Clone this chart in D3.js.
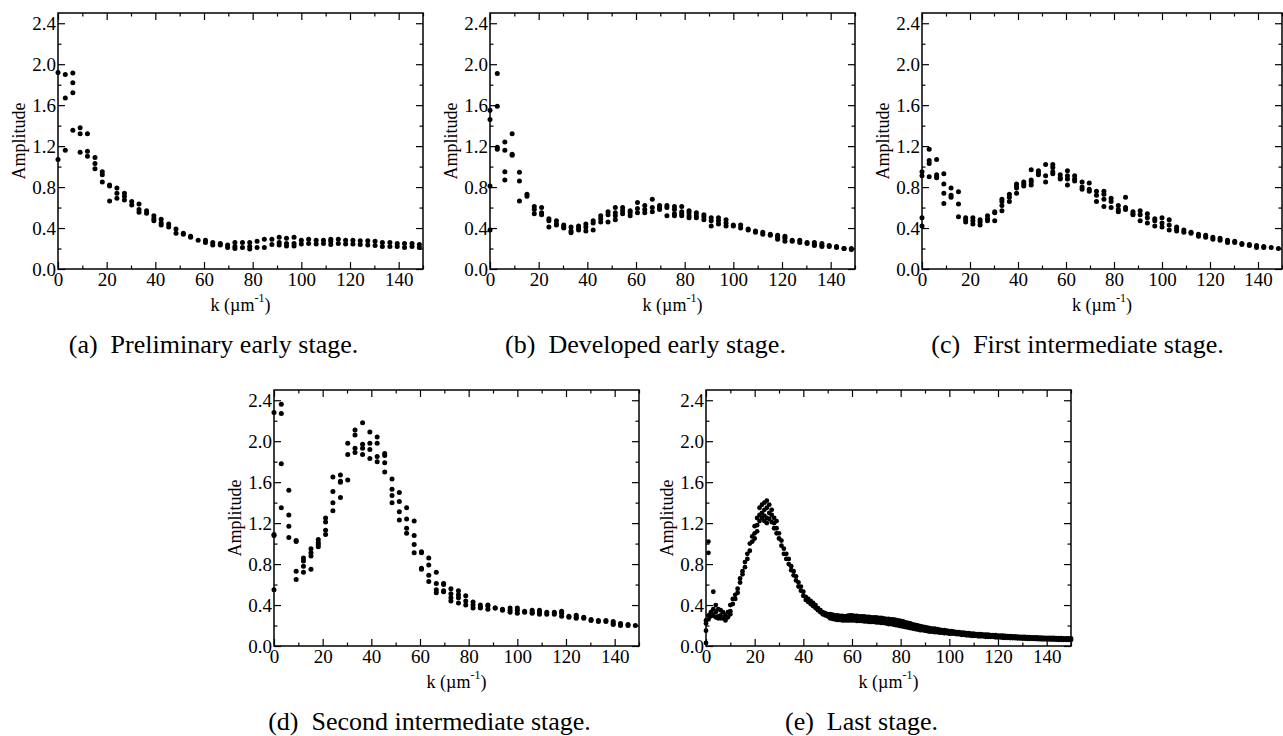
<!DOCTYPE html>
<html>
<head>
<meta charset="utf-8">
<script src="https://cdn.jsdelivr.net/npm/d3@7"></script>
<style>
  html, body { margin: 0; padding: 0; background: #fff; }
  svg { display: block; }
  svg text { font-family: "Liberation Serif", "Tinos", "DejaVu Serif", "Noto Serif", "FreeSerif", "Times New Roman", Times, serif !important; fill: #000; }
</style>
</head>
<body>
<svg id="chart" width="1283" height="736"></svg>
<script>
// ---------- DATA ----------
const xMajorTicks = [0, 20, 40, 60, 80, 100, 120, 140];
const xMinorTicks = [10, 30, 50, 70, 90, 110, 130, 150];
const yMajorTicks = [0, 0.4, 0.8, 1.2, 1.6, 2.0, 2.4];
const yMinorTicks = [0.2, 0.6, 1.0, 1.4, 1.8, 2.2];
const yAxisTitle = "Amplitude";
const xAxisTitle = "k (\u00b5m";
const xAxisSup = "-1";

// common k grid (µm^-1) for panels a–d
const kGrid = [0,3.0,6.1,9.1,12.1,15.2,18.2,21.2,24.2,27.3,30.3,33.3,36.4,39.4,42.4,45.5,48.5,51.5,54.5,57.6,
  60.6,63.6,66.7,69.7,72.7,75.8,78.8,81.8,84.8,87.9,90.9,93.9,97.0,100.0,103.0,106.1,109.1,112.1,115.2,118.2,
  121.2,124.2,127.3,130.3,133.3,136.4,139.4,142.4,145.5,148.5];

const ampA = [
  [1.92,1.07],[1.90,1.67,1.16],[1.915,1.82,1.72,1.355],[1.38,1.32,1.14],[1.32,1.15,1.10],
  [1.09,1.03,0.98],[0.95,0.92,0.85],[0.82,0.81,0.665],[0.79,0.74,0.69],[0.74,0.71,0.675],
  [0.66,0.625],[0.635,0.58,0.555],[0.57,0.545],[0.52,0.49,0.47],[0.485,0.45,0.43],
  [0.44,0.41],[0.39,0.35],[0.35,0.34],[0.32,0.31],[0.28],
  [0.28,0.26],[0.26,0.235],[0.25,0.235],[0.235,0.21],[0.26,0.22,0.20],
  [0.26,0.21],[0.26,0.22,0.195],[0.27,0.21],[0.29,0.21],[0.29,0.24],
  [0.31,0.26,0.235],[0.30,0.25,0.225],[0.31,0.25,0.225],[0.28,0.245],[0.29,0.25],
  [0.28,0.245],[0.28,0.25],[0.29,0.27,0.24],[0.29,0.25],[0.28,0.245],
  [0.28,0.245],[0.275,0.24],[0.275,0.235],[0.27,0.23],[0.26,0.22],
  [0.26,0.22],[0.25,0.22],[0.25,0.21],[0.25,0.22],[0.24,0.21]
];

const ampB = [
  [1.55,1.46,0.81,0.38],[1.91,1.59,1.19,1.17],[1.24,1.16,0.95,0.87],[1.32,1.12,1.11],[0.945,0.86,0.665],
  [0.73,0.71],[0.61,0.58,0.54],[0.60,0.55,0.53],[0.49,0.47,0.41],[0.47,0.44,0.43],
  [0.43,0.41,0.40],[0.41,0.37,0.355],[0.42,0.40,0.38],[0.44,0.41,0.37],[0.47,0.45,0.38],
  [0.52,0.49,0.46],[0.56,0.53,0.46],[0.60,0.55,0.52,0.48],[0.60,0.57,0.54],[0.57,0.55,0.52],
  [0.65,0.59,0.55],[0.62,0.58,0.55],[0.68,0.60,0.56],[0.62,0.60,0.58],[0.62,0.60,0.52],
  [0.61,0.58,0.54,0.52],[0.61,0.56,0.54,0.52],[0.57,0.55,0.52,0.50],[0.55,0.52,0.50],[0.53,0.51,0.48],
  [0.50,0.47,0.42],[0.50,0.47,0.44],[0.48,0.45,0.42],[0.43,0.42],[0.43,0.40],
  [0.39,0.38],[0.37,0.36],[0.36,0.34],[0.34,0.33],[0.33,0.31,0.29],
  [0.32,0.30,0.27],[0.28,0.27],[0.28,0.26],[0.26,0.25],[0.26,0.24,0.23],
  [0.25,0.23,0.22],[0.23,0.22],[0.22,0.21],[0.20,0.20],[0.20,0.19]
];

const ampC = [
  [0.95,0.91,0.50,0.42],[1.17,1.06,1.03,0.90],[1.07,0.92,0.90,0.89],[0.93,0.83,0.74,0.64],[0.79,0.72,0.70],
  [0.755,0.635,0.51],[0.50,0.48,0.46],[0.50,0.47,0.44],[0.48,0.46,0.43],[0.52,0.49,0.47],
  [0.56,0.55,0.47],[0.68,0.66,0.62,0.57],[0.73,0.70,0.66],[0.83,0.81,0.79,0.74],[0.85,0.83,0.81],
  [0.97,0.87,0.85,0.82],[0.96,0.94,0.92],[1.02,0.91,0.85],[1.02,0.99,0.95,0.93],[0.92,0.89,0.88],
  [0.96,0.91,0.88,0.82],[0.91,0.88,0.86],[0.85,0.80,0.78],[0.84,0.78,0.76],[0.76,0.72,0.66],
  [0.76,0.73,0.68,0.61],[0.69,0.66,0.60],[0.62,0.58,0.56],[0.70,0.60,0.58],[0.56,0.54,0.53],
  [0.57,0.53,0.47],[0.54,0.50,0.45],[0.49,0.47,0.42],[0.50,0.45,0.41],[0.48,0.43,0.38],
  [0.41,0.39,0.37],[0.38,0.36],[0.36,0.35],[0.34,0.32],[0.33,0.31],
  [0.31,0.29],[0.30,0.28],[0.28,0.26],[0.27,0.26],[0.25,0.24],
  [0.24,0.23],[0.23,0.21],[0.22,0.21],[0.21],[0.20]
];

const ampD = [
  [2.28,1.09,1.08,0.55],[2.36,2.27,1.78,1.35],[1.52,1.28,1.17,1.06],[1.03,1.02,0.73,0.65],[0.86,0.83,0.78,0.72],
  [0.95,0.91,0.88,0.75],[1.04,1.01,0.99,0.97],[1.25,1.21,1.13,1.09],[1.65,1.51,1.40,1.32],[1.67,1.61,1.60,1.45],
  [1.98,1.87,1.62],[2.11,2.06,1.93,1.89],[2.18,1.97,1.93,1.87],[2.09,1.98,1.92,1.83],[2.04,1.98,1.85,1.80],
  [1.88,1.86,1.79,1.70],[1.63,1.53,1.47,1.40],[1.50,1.41,1.31,1.23],[1.35,1.24,1.15,1.10],[1.22,1.08,0.99,0.91],
  [0.92,0.91,0.76,0.75],[0.86,0.79,0.69,0.63],[0.72,0.61,0.55,0.52],[0.61,0.60,0.54,0.53],[0.56,0.51,0.47,0.44],
  [0.54,0.50,0.47,0.42],[0.49,0.44,0.40],[0.43,0.40,0.37],[0.40,0.38,0.37],[0.40,0.39,0.36],
  [0.37,0.37],[0.36,0.35],[0.37,0.35,0.33],[0.37,0.35,0.32],[0.34,0.33],
  [0.35,0.33,0.32],[0.35,0.33,0.31],[0.33,0.31],[0.33,0.31],[0.34,0.32,0.29],
  [0.29,0.28],[0.30,0.28,0.27],[0.28,0.27],[0.26,0.25],[0.25,0.24],
  [0.25,0.24],[0.24,0.22,0.21],[0.22,0.20],[0.21,0.20],[0.20]
];

// panel (e): finer k sampling
const kE = [0,1,2,3,4,5,6,7,8,9,10,11,12,13,14,15,16,17,18,19,20,21,22,23,24,25,26,27,28,29,30,31,32,33,34,35,36,37,38,39,40,41,42,43,44,45,46,47,48,49,50,
  51,52,53,54,55,56,57,58,59,60,61,62,63,64,65,66,67,68,69,70,71,72,73,74,75,76,77,78,79,80,81,82,83,84,85,86,87,88,89,90,91,92,93,94,95,96,97,98,99,100,
  101,102,103,104,105,106,107,108,109,110,111,112,113,114,115,116,117,118,119,120,121,122,123,124,125,126,127,128,129,130,131,132,133,134,135,136,137,138,139,140,141,142,143,144,145,146,147,148,149,150];
const ampE = [
  [0.03,0.15,0.22,0.25],[1.02,0.91,0.30,0.26],[0.33,0.29],[0.53,0.36,0.30],[0.40,0.33,0.28],
  [0.36,0.29,0.27],[0.35,0.30,0.27],[0.33,0.27],[0.30,0.25],[0.33,0.28],
  [0.40,0.34,0.31],[0.46,0.41],[0.50,0.46],[0.56,0.52],[0.66,0.62],
  [0.73,0.70],[0.82,0.77],[0.90,0.85],[1.00,0.93],[1.07,1.02],
  [1.17,1.10,1.05],[1.25,1.18,1.12],[1.35,1.28,1.22],[1.38,1.30,1.25],[1.40,1.33,1.27,1.22],
  [1.42,1.35,1.25,1.20],[1.38,1.30,1.24],[1.33,1.28,1.21],[1.25,1.20,1.15],[1.22,1.15,1.10],
  [1.10,1.05],[1.03,0.98],[0.95,0.90],[0.90,0.85],[0.85,0.80],
  [0.78,0.74],[0.73,0.69],[0.68,0.64],[0.62,0.58],[0.58,0.54],
  [0.53,0.49],[0.48,0.45],[0.46,0.43],[0.44,0.41],[0.42,0.39],
  [0.40,0.37],[0.37,0.35],[0.35,0.33],[0.33,0.31],[0.32,0.30],
  [0.31,0.29],
  [0.31,0.29,0.27],[0.305,0.285,0.265],[0.30,0.28,0.26],[0.30,0.275,0.255],[0.295,0.275,0.255],
  [0.295,0.27,0.25],[0.29,0.27,0.25],[0.295,0.27,0.25],[0.30,0.27,0.25],[0.30,0.275,0.25],
  [0.295,0.27,0.25],[0.295,0.27,0.245],[0.29,0.265,0.245],[0.29,0.265,0.245],[0.29,0.265,0.24],
  [0.285,0.26,0.24],[0.285,0.26,0.235],[0.28,0.26,0.235],[0.28,0.255,0.235],[0.28,0.255,0.23],
  [0.275,0.25,0.23],[0.275,0.25,0.225],[0.27,0.245,0.225],[0.265,0.245,0.22],[0.265,0.24,0.215],
  [0.26,0.235,0.215],[0.26,0.23,0.21],[0.255,0.23,0.205],[0.25,0.225,0.20],[0.245,0.22,0.195],
  [0.24,0.21,0.19],[0.23,0.205,0.185],[0.225,0.20,0.18],[0.22,0.195,0.175],[0.21,0.19,0.17],
  [0.205,0.185,0.165],[0.20,0.18,0.16],[0.195,0.175,0.155],[0.19,0.17,0.155],[0.185,0.165,0.15],
  [0.18,0.16,0.145],[0.175,0.155,0.14],[0.17,0.155,0.14],[0.17,0.15,0.135],[0.165,0.145,0.135],
  [0.16,0.145,0.13],[0.155,0.14,0.13],[0.155,0.14,0.125],[0.15,0.135,0.125],[0.145,0.13,0.12],
  [0.145,0.12],[0.14,0.12],[0.135,0.115],[0.135,0.115],[0.13,0.11],[0.13,0.11],[0.125,0.105],[0.125,0.105],[0.12,0.10],[0.12,0.10],
  [0.115,0.10],[0.115,0.095],[0.115,0.095],[0.11,0.095],[0.11,0.09],[0.11,0.09],[0.105,0.09],[0.105,0.09],[0.105,0.085],[0.10,0.085],
  [0.10,0.085],[0.10,0.08],[0.098,0.08],[0.097,0.08],[0.095,0.078],[0.094,0.077],[0.093,0.076],[0.092,0.075],[0.09,0.074],[0.089,0.073],
  [0.088,0.072],[0.087,0.071],[0.086,0.07],[0.085,0.07],[0.084,0.069],[0.083,0.068],[0.082,0.067],[0.081,0.066],[0.08,0.065],[0.08,0.065],
  [0.079,0.064],[0.078,0.063],[0.078,0.063],[0.077,0.062],[0.076,0.061],[0.076,0.061],[0.075,0.06],[0.075,0.06],[0.074,0.059],[0.074,0.059]
];

const captionsLabel = ["(a)", "(b)", "(c)", "(d)", "(e)"];
const captionsText = ["Preliminary early stage.", "Developed early stage.", "First intermediate stage.", "Second intermediate stage.", "Last stage."];

// ---------- LAYOUT ----------
const panels = [
  { k: kGrid, amp: ampA, left: 58,  right: 423,  top: 13,  bottom: 269, r: 2.5 },
  { k: kGrid, amp: ampB, left: 490, right: 855,  top: 13,  bottom: 269, r: 2.5 },
  { k: kGrid, amp: ampC, left: 922, right: 1282, top: 13,  bottom: 269, r: 2.5 },
  { k: kGrid, amp: ampD, left: 274, right: 639,  top: 390, bottom: 646, r: 2.5 },
  { k: kE,    amp: ampE, left: 706, right: 1071, top: 390, bottom: 646, r: 2.4 }
];

const svg = d3.select("#chart");
svg.append("rect").attr("width", 1283).attr("height", 736).attr("fill", "#fff");

panels.forEach((p, i) => {
  const x = d3.scaleLinear().domain([0, 150]).range([p.left, p.right]);
  const y = d3.scaleLinear().domain([0, 2.5]).range([p.bottom, p.top]);
  const g = svg.append("g");

  // points
  const pts = [];
  p.k.forEach((kv, j) => p.amp[j].forEach(v => pts.push([kv, v])));
  const clipId = "clip" + i;
  g.append("clipPath").attr("id", clipId).append("rect")
    .attr("x", p.left - 3).attr("y", p.top).attr("width", p.right - p.left + 6).attr("height", p.bottom - p.top + 3);
  g.append("g").attr("clip-path", `url(#${clipId})`)
    .selectAll("circle").data(pts).join("circle")
    .attr("cx", d => x(d[0])).attr("cy", d => y(d[1])).attr("r", p.r).attr("fill", "#000");

  const styleAxis = sel => {
    sel.select(".domain").remove();
    sel.selectAll(".tick line").attr("stroke", "#000").attr("stroke-width", 1.2);
  };

  // bottom axis with labels
  g.append("g").attr("transform", `translate(0,${p.bottom})`)
    .call(d3.axisBottom(x).tickValues(xMajorTicks).tickSize(-7).tickSizeOuter(0).tickPadding(4).tickFormat(d3.format("d")))
    .call(styleAxis)
    .call(s => s.selectAll("text").attr("font-size", 19));
  g.append("g").attr("transform", `translate(0,${p.bottom})`)
    .call(d3.axisBottom(x).tickValues(xMinorTicks).tickSize(-3.5).tickSizeOuter(0).tickFormat(""))
    .call(styleAxis);
  // top axis (mirror)
  g.append("g").attr("transform", `translate(0,${p.top})`)
    .call(d3.axisTop(x).tickValues(xMajorTicks).tickSize(-7).tickSizeOuter(0).tickFormat(""))
    .call(styleAxis);
  g.append("g").attr("transform", `translate(0,${p.top})`)
    .call(d3.axisTop(x).tickValues(xMinorTicks).tickSize(-3.5).tickSizeOuter(0).tickFormat(""))
    .call(styleAxis);
  // left axis
  g.append("g").attr("transform", `translate(${p.left},0)`)
    .call(d3.axisLeft(y).tickValues(yMajorTicks).tickSize(-7).tickSizeOuter(0).tickPadding(2).tickFormat(d3.format(".1f")))
    .call(styleAxis)
    .call(s => s.selectAll("text").attr("font-size", 19));
  g.append("g").attr("transform", `translate(${p.left},0)`)
    .call(d3.axisLeft(y).tickValues(yMinorTicks).tickSize(-3.5).tickSizeOuter(0).tickFormat(""))
    .call(styleAxis);
  // right axis (mirror)
  g.append("g").attr("transform", `translate(${p.right},0)`)
    .call(d3.axisRight(y).tickValues(yMajorTicks).tickSize(-7).tickSizeOuter(0).tickFormat(""))
    .call(styleAxis);
  g.append("g").attr("transform", `translate(${p.right},0)`)
    .call(d3.axisRight(y).tickValues(yMinorTicks).tickSize(-3.5).tickSizeOuter(0).tickFormat(""))
    .call(styleAxis);

  // frame
  g.append("rect").attr("x", p.left).attr("y", p.top)
    .attr("width", p.right - p.left).attr("height", p.bottom - p.top)
    .attr("fill", "none").attr("stroke", "#000").attr("stroke-width", 1.5);

  // y title
  const cy = (p.top + p.bottom) / 2;
  g.append("text").attr("transform", `translate(${p.left - 33},${cy}) rotate(-90)`)
    .attr("text-anchor", "middle").attr("font-size", 18).text(yAxisTitle);

  // x title
  const cx = (p.left + p.right) / 2;
  const xt = g.append("text").attr("x", cx).attr("y", p.bottom + 42)
    .attr("text-anchor", "middle").attr("font-size", 18);
  xt.append("tspan").text(xAxisTitle);
  xt.append("tspan").attr("font-size", 12).attr("dy", -9).text(xAxisSup);
  xt.append("tspan").attr("dy", 9).text(")");

  // caption (centred slightly left of the plot box, as in the subfigure layout)
  const cap = g.append("text").attr("x", (p.left + 365 / 2) - 27).attr("y", p.bottom + 84)
    .attr("text-anchor", "middle").attr("font-size", 26);
  cap.append("tspan").text(captionsLabel[i]);
  cap.append("tspan").attr("dx", 13).text(captionsText[i]);
});
</script>
</body>
</html>
